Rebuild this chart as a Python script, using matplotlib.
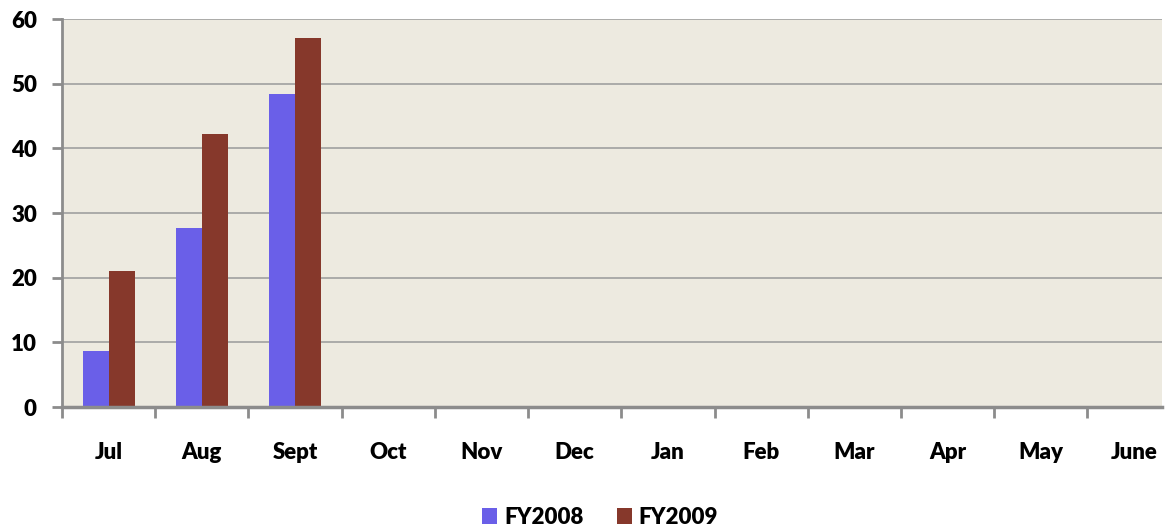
import matplotlib
matplotlib.use("Agg")
import matplotlib.pyplot as plt
import numpy as np

months = ["Jul", "Aug", "Sept", "Oct", "Nov", "Dec", "Jan", "Feb", "Mar", "Apr", "May", "June"]
fy2008 = [8.7, 27.7, 48.4]
fy2009 = [21.1, 42.2, 57.1]
yticks = [0, 10, 20, 30, 40, 50, 60]

plt.rcParams['font.family'] = ['Lato', 'DejaVu Sans']
plt.rcParams['font.weight'] = 'bold'

fig = plt.figure(figsize=(11.65, 5.27), dpi=100)
ax = fig.add_axes([62/1165, 120/527, 1100/1165, 388/527])
ax.set_facecolor('#EDEAE0')

w = 0.28
x08 = np.arange(len(fy2008))
x09 = np.arange(len(fy2009))
ax.bar(x08 - w/2, fy2008, width=w, color='#6A5FE8', label='FY2008', zorder=3)
ax.bar(x09 + w/2, fy2009, width=w, color='#86382B', label='FY2009', zorder=3)

ax.set_xlim(-0.5, 11.3)
ax.set_ylim(0, 60)
ax.set_yticks(yticks)
ax.set_yticklabels([str(v) for v in yticks], fontsize=16, fontweight='heavy')
ax.set_xticks(np.arange(len(months)))
ax.set_xticklabels(months, fontsize=16, fontweight='heavy')
ax.set_xticks(np.arange(-0.5, 11.5, 1.0), minor=True)
ax.tick_params(axis='x', which='major', length=0, pad=25)
ax.tick_params(axis='x', which='minor', length=8, width=2, color='#8C8C8C', direction='out')
ax.tick_params(axis='y', length=7, width=2, color='#8C8C8C', direction='out', pad=11)
ax.grid(axis='y', color='#A0A0A0', linewidth=1.2, zorder=0)
for s in ['top', 'right']:
    ax.spines[s].set_visible(False)
ax.spines['left'].set_color('#8C8C8C')
ax.spines['left'].set_linewidth(2)
ax.spines['bottom'].set_color('#8C8C8C')
ax.spines['bottom'].set_linewidth(2.5)
ax.spines['bottom'].set_zorder(4)

fig.legend(loc='center', bbox_to_anchor=(0.515, 0.018), ncol=2, frameon=False,
           handlelength=0.7, handleheight=0.7, handletextpad=0.3,
           columnspacing=1.5, prop={'weight': 'heavy', 'size': 16})

fig.savefig('out.png', dpi=100, facecolor='white')
